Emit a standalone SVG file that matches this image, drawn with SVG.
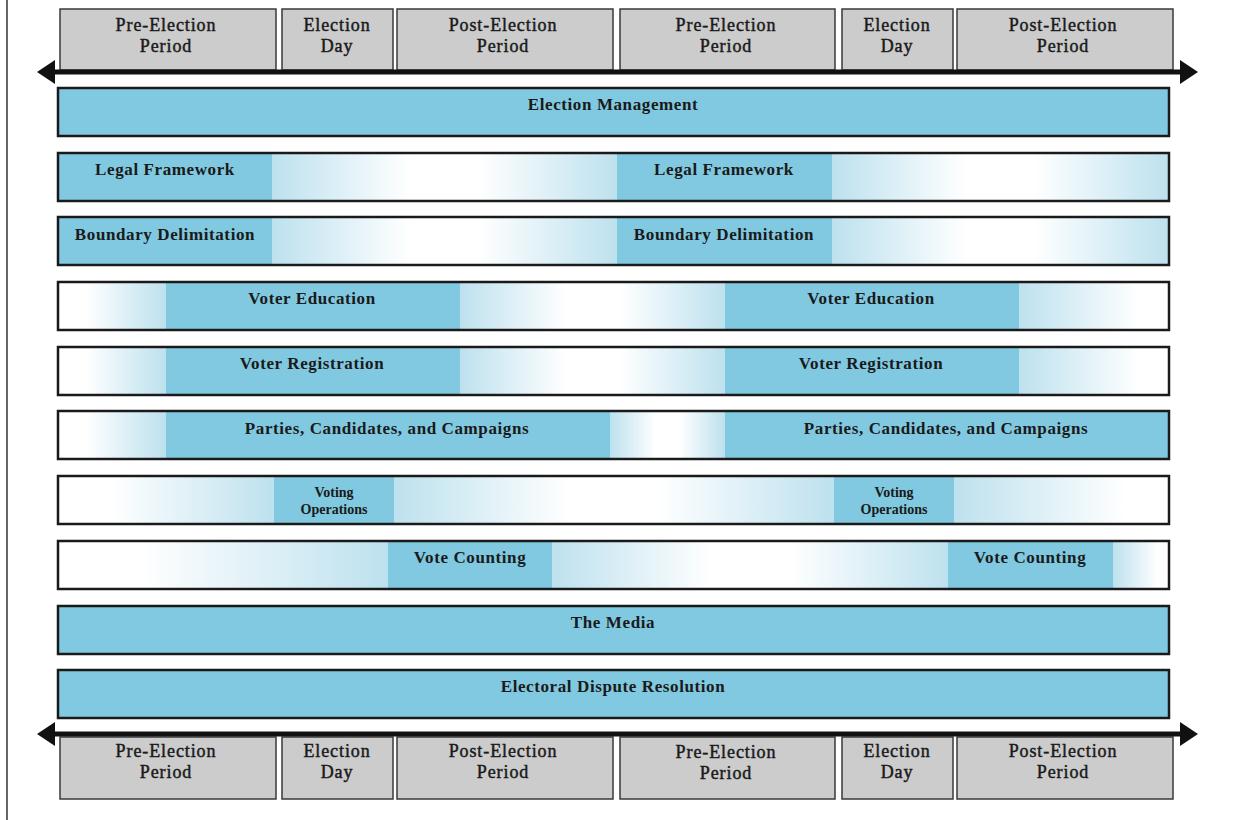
<svg xmlns="http://www.w3.org/2000/svg" width="1235" height="820" viewBox="0 0 1235 820">
<style>
.hdr{fill:#cccccc;stroke:#3a3a3a;stroke-width:1.5}
.row{stroke:#1a1a1a;stroke-width:2.5;fill:none}
.solid{fill:#80c9e1}
.ht{font-family:"Liberation Serif",serif;font-size:18px;fill:#1a1a1a;stroke:#1a1a1a;stroke-width:0.45;text-anchor:middle;letter-spacing:0.9px}
.rt{font-family:"Liberation Serif",serif;font-size:17px;font-weight:bold;fill:#1a1a1a;text-anchor:middle;letter-spacing:0.6px}
.st{font-family:"Liberation Serif",serif;font-size:14px;font-weight:bold;fill:#1a1a1a;text-anchor:middle}
.conn{stroke:#111;stroke-width:5;fill:none}
</style>
<defs>
<linearGradient id="gLWL" x1="0" y1="0" x2="1" y2="0">
<stop offset="0" stop-color="#bde1ee"/><stop offset="0.4" stop-color="#ffffff"/><stop offset="0.6" stop-color="#ffffff"/><stop offset="1" stop-color="#bde1ee"/>
</linearGradient>
<linearGradient id="gWL" x1="0" y1="0" x2="1" y2="0">
<stop offset="0" stop-color="#ffffff"/><stop offset="0.25" stop-color="#ffffff"/><stop offset="1" stop-color="#bde1ee"/>
</linearGradient>
<linearGradient id="gLW" x1="0" y1="0" x2="1" y2="0">
<stop offset="0" stop-color="#bde1ee"/><stop offset="0.8" stop-color="#ffffff"/><stop offset="1" stop-color="#ffffff"/>
</linearGradient>
<marker id="ah" viewBox="0 0 18 24" refX="0" refY="12" markerWidth="18" markerHeight="24" markerUnits="userSpaceOnUse" orient="auto-start-reverse">
<path d="M0,0 L18,12 L0,24 Z" fill="#111"/>
</marker>
</defs>
<rect width="1235" height="820" fill="#ffffff"/>
<line x1="7" y1="0" x2="7" y2="820" stroke="#333" stroke-width="1.5"/>

<g id="header-top">
<rect class="hdr" x="60" y="9" width="216" height="61"/>
<rect class="hdr" x="282" y="9" width="111" height="61"/>
<rect class="hdr" x="397" y="9" width="216" height="61"/>
<rect class="hdr" x="620" y="9" width="215" height="61"/>
<rect class="hdr" x="842" y="9" width="111" height="61"/>
<rect class="hdr" x="957" y="9" width="216" height="61"/>
<text class="ht" x="166" y="31">Pre-Election</text><text class="ht" x="166" y="52">Period</text>
<text class="ht" x="337" y="31">Election</text><text class="ht" x="337" y="52">Day</text>
<text class="ht" x="503" y="31">Post-Election</text><text class="ht" x="503" y="52">Period</text>
<text class="ht" x="726" y="31">Pre-Election</text><text class="ht" x="726" y="52">Period</text>
<text class="ht" x="897" y="31">Election</text><text class="ht" x="897" y="52">Day</text>
<text class="ht" x="1063" y="31">Post-Election</text><text class="ht" x="1063" y="52">Period</text>
</g>

<g id="header-bottom">
<rect class="hdr" x="60" y="737" width="216" height="62"/>
<rect class="hdr" x="282" y="737" width="111" height="62"/>
<rect class="hdr" x="397" y="737" width="216" height="62"/>
<rect class="hdr" x="620" y="737" width="215" height="62"/>
<rect class="hdr" x="842" y="737" width="111" height="62"/>
<rect class="hdr" x="957" y="737" width="216" height="62"/>
<text class="ht" x="166" y="757">Pre-Election</text><text class="ht" x="166" y="778">Period</text>
<text class="ht" x="337" y="757">Election</text><text class="ht" x="337" y="778">Day</text>
<text class="ht" x="503" y="757">Post-Election</text><text class="ht" x="503" y="778">Period</text>
<text class="ht" x="726" y="758">Pre-Election</text><text class="ht" x="726" y="779">Period</text>
<text class="ht" x="897" y="757">Election</text><text class="ht" x="897" y="778">Day</text>
<text class="ht" x="1063" y="757">Post-Election</text><text class="ht" x="1063" y="778">Period</text>
</g>

<g id="connectors">
<line class="conn" x1="55" y1="72" x2="1180" y2="72" marker-start="url(#ah)" marker-end="url(#ah)"/>
<line class="conn" x1="55" y1="734" x2="1180" y2="734" marker-start="url(#ah)" marker-end="url(#ah)"/>
</g>

<g id="election-management">
<rect class="solid" x="58" y="88" width="1111" height="48"/>
<rect class="row" x="58" y="88" width="1111" height="48"/>
<text class="rt" x="613" y="110">Election Management</text>
</g>

<g id="legal-framework">
<rect class="solid" x="58" y="153" width="214" height="48"/>
<rect fill="url(#gLWL)" x="272" y="153" width="345" height="48"/>
<rect class="solid" x="617" y="153" width="215" height="48"/>
<rect fill="url(#gLWL)" x="832" y="153" width="337" height="48"/>
<rect class="row" x="58" y="153" width="1111" height="48"/>
<text class="rt" x="165" y="175">Legal Framework</text>
<text class="rt" x="724" y="175">Legal Framework</text>
</g>

<g id="boundary-delimitation">
<rect class="solid" x="58" y="217" width="214" height="48"/>
<rect fill="url(#gLWL)" x="272" y="217" width="345" height="48"/>
<rect class="solid" x="617" y="217" width="215" height="48"/>
<rect fill="url(#gLWL)" x="832" y="217" width="337" height="48"/>
<rect class="row" x="58" y="217" width="1111" height="48"/>
<text class="rt" x="165" y="240">Boundary Delimitation</text>
<text class="rt" x="724" y="240">Boundary Delimitation</text>
</g>

<g id="voter-education">
<rect fill="url(#gWL)" x="58" y="282" width="108" height="48"/>
<rect class="solid" x="166" y="282" width="294" height="48"/>
<rect fill="url(#gLWL)" x="460" y="282" width="265" height="48"/>
<rect class="solid" x="725" y="282" width="294" height="48"/>
<rect fill="url(#gLW)" x="1019" y="282" width="150" height="48"/>
<rect class="row" x="58" y="282" width="1111" height="48"/>
<text class="rt" x="312" y="304">Voter Education</text>
<text class="rt" x="871" y="304">Voter Education</text>
</g>

<g id="voter-registration">
<rect fill="url(#gWL)" x="58" y="347" width="108" height="48"/>
<rect class="solid" x="166" y="347" width="294" height="48"/>
<rect fill="url(#gLWL)" x="460" y="347" width="265" height="48"/>
<rect class="solid" x="725" y="347" width="294" height="48"/>
<rect fill="url(#gLW)" x="1019" y="347" width="150" height="48"/>
<rect class="row" x="58" y="347" width="1111" height="48"/>
<text class="rt" x="312" y="369">Voter Registration</text>
<text class="rt" x="871" y="369">Voter Registration</text>
</g>

<g id="parties-candidates-campaigns">
<rect fill="url(#gWL)" x="58" y="411" width="108" height="48"/>
<rect class="solid" x="166" y="411" width="444" height="48"/>
<rect fill="url(#gLWL)" x="610" y="411" width="115" height="48"/>
<rect class="solid" x="725" y="411" width="444" height="48"/>
<rect class="row" x="58" y="411" width="1111" height="48"/>
<text class="rt" x="387" y="434">Parties, Candidates, and Campaigns</text>
<text class="rt" x="946" y="434">Parties, Candidates, and Campaigns</text>
</g>

<g id="voting-operations">
<rect fill="url(#gWL)" x="58" y="476" width="216" height="48"/>
<rect class="solid" x="274" y="476" width="120" height="48"/>
<rect fill="url(#gLWL)" x="394" y="476" width="440" height="48"/>
<rect class="solid" x="834" y="476" width="120" height="48"/>
<rect fill="url(#gLW)" x="954" y="476" width="215" height="48"/>
<rect class="row" x="58" y="476" width="1111" height="48"/>
<text class="st" x="334" y="497">Voting</text><text class="st" x="334" y="514">Operations</text>
<text class="st" x="894" y="497">Voting</text><text class="st" x="894" y="514">Operations</text>
</g>

<g id="vote-counting">
<rect fill="url(#gWL)" x="58" y="541" width="330" height="48"/>
<rect class="solid" x="388" y="541" width="164" height="48"/>
<rect fill="url(#gLWL)" x="552" y="541" width="396" height="48"/>
<rect class="solid" x="948" y="541" width="165" height="48"/>
<rect fill="url(#gLW)" x="1113" y="541" width="56" height="48"/>
<rect class="row" x="58" y="541" width="1111" height="48"/>
<text class="rt" x="470" y="563">Vote Counting</text>
<text class="rt" x="1030" y="563">Vote Counting</text>
</g>

<g id="the-media">
<rect class="solid" x="58" y="606" width="1111" height="48"/>
<rect class="row" x="58" y="606" width="1111" height="48"/>
<text class="rt" x="613" y="628">The Media</text>
</g>

<g id="electoral-dispute-resolution">
<rect class="solid" x="58" y="670" width="1111" height="48"/>
<rect class="row" x="58" y="670" width="1111" height="48"/>
<text class="rt" x="613" y="692">Electoral Dispute Resolution</text>
</g>
</svg>
